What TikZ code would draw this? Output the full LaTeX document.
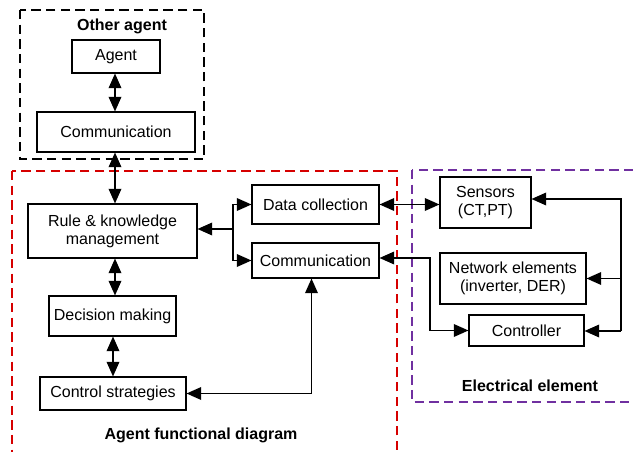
\documentclass[tikz,border=0pt]{standalone}
\usepackage{fontspec}
\setmainfont{Liberation Sans}
\usepackage{tikz}
\usetikzlibrary{arrows.meta,calc,positioning}
\definecolor{frameRed}{RGB}{214,0,0}
\definecolor{framePurple}{RGB}{112,48,160}
\begin{document}
\begin{tikzpicture}[x=0.75pt,y=-0.75pt,
		font=\fontsize{12}{13.5}\selectfont,
		blk/.style={draw,line width=0.8pt,inner sep=0pt,align=center,anchor=center},
		frm/.style={line width=0.8pt,dash pattern=on 7pt off 4pt},
		lbl/.style={font=\fontsize{12}{13.5}\selectfont\bfseries,anchor=center},
		con/.style={line width=1.1pt,arrows={-}},
		twoway/.style={con,{Triangle[length=11pt,width=9.5pt]}-{Triangle[length=11pt,width=9.5pt]}},
		oneway/.style={con,-{Triangle[length=11pt,width=9.5pt]}}]
	\clip (0,0) rectangle (633,452);
	% frames
	\draw[frm] (20,10) rectangle (204,159);
	\draw[frm,frameRed] (12,171) rectangle (397,470);
	\draw[frm,framePurple] (412,170) rectangle (650,402);
	\node[lbl] (lblOther) at (122,26) {Other agent};
	\node[lbl] (lblAgent) at (201,435) {Agent functional diagram};
	\node[lbl] (lblElec) at (530,386) {Electrical element};
	% other agent
	\node (bAgent) at (116,56.5) [blk,minimum width=66pt,minimum height=24.75pt] {Agent};
	\node (bCommOther) at (116,132) [blk,minimum width=118.5pt,minimum height=30pt] {Communication};
	% agent functional diagram
	\node (bRule) at (112.5,231) [blk,minimum width=126.75pt,minimum height=40.5pt] {Rule \& knowledge\\management};
	\node (bDecision) at (112.5,316) [blk,minimum width=95.25pt,minimum height=30pt] {Decision making};
	\node (bControl) at (113,393.5) [blk,minimum width=109.5pt,minimum height=24.75pt] {Control strategies};
	\node (bData) at (315.5,204.5) [blk,minimum width=95.25pt,minimum height=29.25pt] {Data collection};
	\node (bComm) at (315.5,260.5) [blk,minimum width=95.25pt,minimum height=26.25pt] {Communication};
	% electrical element
	\node (bSensors) at (485.5,202.5) [blk,minimum width=68.25pt,minimum height=38.25pt] {Sensors\\(CT,PT)};
	\node (bNetwork) at (513,278.5) [blk,minimum width=109.5pt,minimum height=38.25pt] {Network elements\\(inverter, DER)};
	\node (bController) at (526.5,330.5) [blk,minimum width=86.25pt,minimum height=23.25pt] {Controller};
	% helper points
	\coordinate (cBranch) at (233,229);
	\coordinate (cElbow) at (430,258);
	\coordinate (cTrTop) at (621,199);
	\coordinate (cTrBot) at (621,331);
	% connectors
	\draw[twoway] (bAgent.south -| 115,0) -- (bCommOther.north -| 115,0);
	\draw[twoway] (bCommOther.south -| 115,0) -- (bRule.north -| 115,0);
	\draw[twoway] (bRule.south -| 115,0) -- (bDecision.north -| 115,0);
	\draw[twoway] (bDecision.south -| 113,0) -- (bControl.north -| 113,0);
	\draw[oneway] (cBranch) -- (cBranch -| bRule.east);
	\draw[oneway] (cBranch) |- (bData);
	\draw[oneway] (cBranch) |- (bComm);
	\draw[twoway] (bControl.east) -| ($(bComm.south)+(-4,0)$);
	\draw[twoway] (bData.east) -- (bData.east -| bSensors.west);
	\draw[twoway] (bComm.east |- cElbow) -- (cElbow) |- (bController.west);
	\draw[oneway] (cTrBot) -- (cTrTop) -- (cTrTop -| bSensors.east);
	\draw[oneway] (cTrBot |- bNetwork) -- (bNetwork.east);
	\draw[oneway] (cTrBot) -- (cTrBot -| bController.east);
\end{tikzpicture}
\end{document}
